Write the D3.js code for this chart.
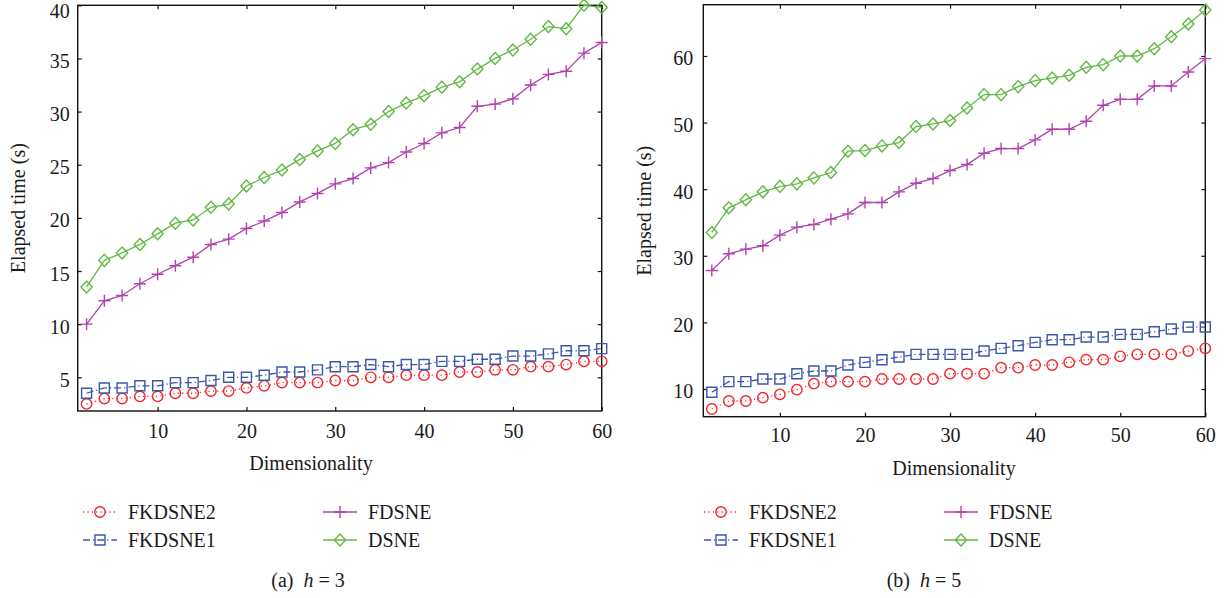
<!DOCTYPE html>
<html>
<head>
<meta charset="utf-8">
<script src="https://cdn.jsdelivr.net/npm/d3@7"></script>
<style>
body{margin:0;background:#fff;}
text{font-family:"Liberation Serif","Times New Roman",serif;fill:#1a1a1a;}
</style>
</head>
<body>
<div class="chart"></div>
<script>
// x values (dimensionality)
const dims = [2,4,6,8,10,12,14,16,18,20,22,24,26,28,30,32,34,36,38,40,42,44,46,48,50,52,54,56,58,60];
const xTicks = [10,20,30,40,50,60];

// (a) h = 3
const fkdsne2A = [2.5,3.0,3.0,3.2,3.2,3.5,3.5,3.7,3.7,4.0,4.2,4.5,4.5,4.5,4.7,4.7,5.0,5.0,5.2,5.2,5.2,5.5,5.5,5.7,5.7,6.0,6.0,6.2,6.5,6.5];
const fkdsne1A = [3.5,4.0,4.0,4.2,4.2,4.5,4.5,4.7,5.0,5.0,5.2,5.5,5.5,5.7,6.0,6.0,6.2,6.0,6.2,6.2,6.5,6.5,6.7,6.7,7.0,7.0,7.2,7.5,7.5,7.7];
const fdsneA   = [10.0,12.2,12.7,13.8,14.7,15.5,16.3,17.5,18.0,19.0,19.7,20.5,21.5,22.3,23.2,23.7,24.7,25.2,26.2,27.0,28.0,28.5,30.5,30.7,31.2,32.5,33.5,33.8,35.5,36.5];
const dsneA    = [13.5,16.0,16.7,17.5,18.5,19.5,19.8,21.0,21.3,23.0,23.8,24.5,25.5,26.3,27.0,28.3,28.8,30.0,30.8,31.5,32.3,32.8,34.0,35.0,35.8,36.8,38.0,37.8,40.0,39.8];
const yTicksA  = [5,10,15,20,25,30,35,40];

// (b) h = 5
const fkdsne2B = [7.0,8.2,8.2,8.7,9.2,9.9,10.8,11.1,11.1,11.1,11.5,11.5,11.5,11.5,12.3,12.3,12.3,13.2,13.2,13.6,13.6,14.0,14.4,14.4,14.9,15.2,15.2,15.2,15.7,16.1];
const fkdsne1B = [9.5,11.1,11.1,11.5,11.5,12.3,12.7,12.7,13.6,14.0,14.4,14.8,15.2,15.2,15.2,15.2,15.7,16.1,16.5,17.0,17.4,17.4,17.8,17.8,18.2,18.2,18.6,19.0,19.3,19.3];
const fdsneB   = [27.8,30.3,31.0,31.5,33.1,34.3,34.7,35.5,36.3,38.0,38.0,39.6,40.9,41.6,42.8,43.7,45.4,46.1,46.1,47.4,49.0,49.0,50.2,52.6,53.5,53.5,55.5,55.5,57.6,59.6];
const dsneB    = [33.5,37.2,38.4,39.6,40.4,40.8,41.7,42.5,45.7,45.8,46.5,47.0,49.4,49.8,50.3,52.2,54.2,54.2,55.4,56.3,56.7,57.1,58.3,58.7,60.0,60.0,61.1,62.9,64.8,66.9];
const yTicksB  = [10,20,30,40,50,60];

const seriesNames = ['FKDSNE2','FKDSNE1','FDSNE','DSNE'];

// line + marker style per series
const styles = {
  FKDSNE2: {color:'#f2262a', dash:'1.2,3.2', marker:'circle'},
  FKDSNE1: {color:'#3a58a8', dash:'7,3,1.2,3', marker:'square'},
  FDSNE:   {color:'#b042ae', dash:null, marker:'plus'},
  DSNE:    {color:'#62b845', dash:null, marker:'diamond'}
};

function markerPath(type){
  if(type=='circle') return d3.symbol().type(d3.symbolCircle).size(Math.PI*5.2*5.2)();
  if(type=='square') return 'M-5,-5H5V5H-5Z';
  if(type=='diamond') return 'M0,-6L5.6,0L0,6L-5.6,0Z';
  return 'M-6,0H6M0,-6V6';
}

const panels = [
  {left:77.7, right:601.7, top:5.3, bottom:411, yDomain:[1.83,40], yTicks:yTicksA,
   data:[fkdsne2A,fkdsne1A,fdsneA,dsneA], xPad:13, yPad:8, ylabX:25, xlabX:311, xlabY:470,
   legX:83, capX:308, cap:'(a)', h:'3'},
  {left:703.3, right:1205.3, top:4.7, bottom:416.7, yDomain:[5.84,67.7], yTicks:yTicksB,
   data:[fkdsne2B,fkdsne1B,fdsneB,dsneB], xPad:11, yPad:10, ylabX:651, xlabX:954, xlabY:475,
   legX:704, capX:924, cap:'(b)', h:'5'}
];

const svg = d3.select('.chart').append('svg')
  .attr('width',1226).attr('height',598);

panels.forEach(p => {
  const x = d3.scaleLinear().domain([1,60]).range([p.left,p.right]);
  const y = d3.scaleLinear().domain(p.yDomain).range([p.bottom,p.top]);
  const g = svg.append('g');

  // box
  g.append('rect')
    .attr('x',p.left).attr('y',p.top)
    .attr('width',p.right-p.left).attr('height',p.bottom-p.top)
    .attr('fill','none').attr('stroke','#111').attr('stroke-width',1.4);

  // axes, ticks pointing inward on all four sides
  const ax = [
    d3.axisBottom(x).tickValues(xTicks).tickSize(-4).tickPadding(p.xPad),
    d3.axisTop(x).tickValues(xTicks).tickSize(-4).tickFormat(''),
    d3.axisLeft(y).tickValues(p.yTicks).tickSize(-4).tickPadding(p.yPad),
    d3.axisRight(y).tickValues(p.yTicks).tickSize(-4).tickFormat('')
  ];
  const pos = [`translate(0,${p.bottom})`,`translate(0,${p.top})`,`translate(${p.left},0)`,`translate(${p.right},0)`];
  ax.forEach((a,i) => {
    const s = g.append('g').attr('transform',pos[i]).call(a);
    s.select('.domain').remove();
    s.selectAll('line').attr('stroke','#111').attr('stroke-width',1.2);
    s.selectAll('text').attr('font-size',20).attr('fill','#1a1a1a')
      .style('font-family','"Liberation Serif",serif');
    if(i==2){
      s.selectAll('text').attr('dy','0.45em');
      // top label sits a little lower so it is not cut
      s.selectAll('text').filter(d => y(d) < 12).attr('dy','0.6em');
    }
  });

  // series
  const line = d3.line().x((d,i)=>x(dims[i])).y(d=>y(d));
  p.data.forEach((vals,k) => {
    const st = styles[seriesNames[k]];
    g.append('path').datum(vals)
      .attr('d',line).attr('fill','none')
      .attr('stroke',st.color).attr('stroke-width',1.3)
      .attr('stroke-dasharray',st.dash);
    g.selectAll(null).data(vals).enter().append('path')
      .attr('transform',(d,i)=>`translate(${x(dims[i])},${y(d)})`)
      .attr('d',markerPath(st.marker))
      .attr('fill','none').attr('stroke',st.color).attr('stroke-width',1.4);
  });

  // axis titles
  g.append('text')
    .attr('transform',`translate(${p.ylabX},${(p.top+p.bottom)/2}) rotate(-90)`)
    .attr('text-anchor','middle').attr('font-size',20)
    .text('Elapsed time (s)');
  g.append('text')
    .attr('x',p.xlabX).attr('y',p.xlabY)
    .attr('text-anchor','middle').attr('font-size',20)
    .text('Dimensionality');

  // legend, two columns
  const rows = [512,540];
  seriesNames.forEach((name,k) => {
    const st = styles[name];
    const lx = p.legX + (k>1 ? 240 : 0);
    const ly = rows[k%2];
    g.append('line')
      .attr('x1',lx).attr('x2',lx+34).attr('y1',ly).attr('y2',ly)
      .attr('stroke',st.color).attr('stroke-width',1.3)
      .attr('stroke-dasharray',st.dash);
    g.append('path')
      .attr('transform',`translate(${lx+17},${ly})`)
      .attr('d',markerPath(st.marker))
      .attr('fill','none').attr('stroke',st.color).attr('stroke-width',1.4);
    g.append('text')
      .attr('x',lx+45).attr('y',ly).attr('dy','0.34em')
      .attr('font-size',20).text(name);
  });

  // caption
  const cap = g.append('text')
    .attr('x',p.capX).attr('y',587)
    .attr('text-anchor','middle').attr('font-size',20)
    .attr('xml:space','preserve');
  cap.append('tspan').text(p.cap+'  ');
  cap.append('tspan').attr('font-style','italic').text('h');
  cap.append('tspan').text(' = '+p.h);
});
</script>
</body>
</html>
